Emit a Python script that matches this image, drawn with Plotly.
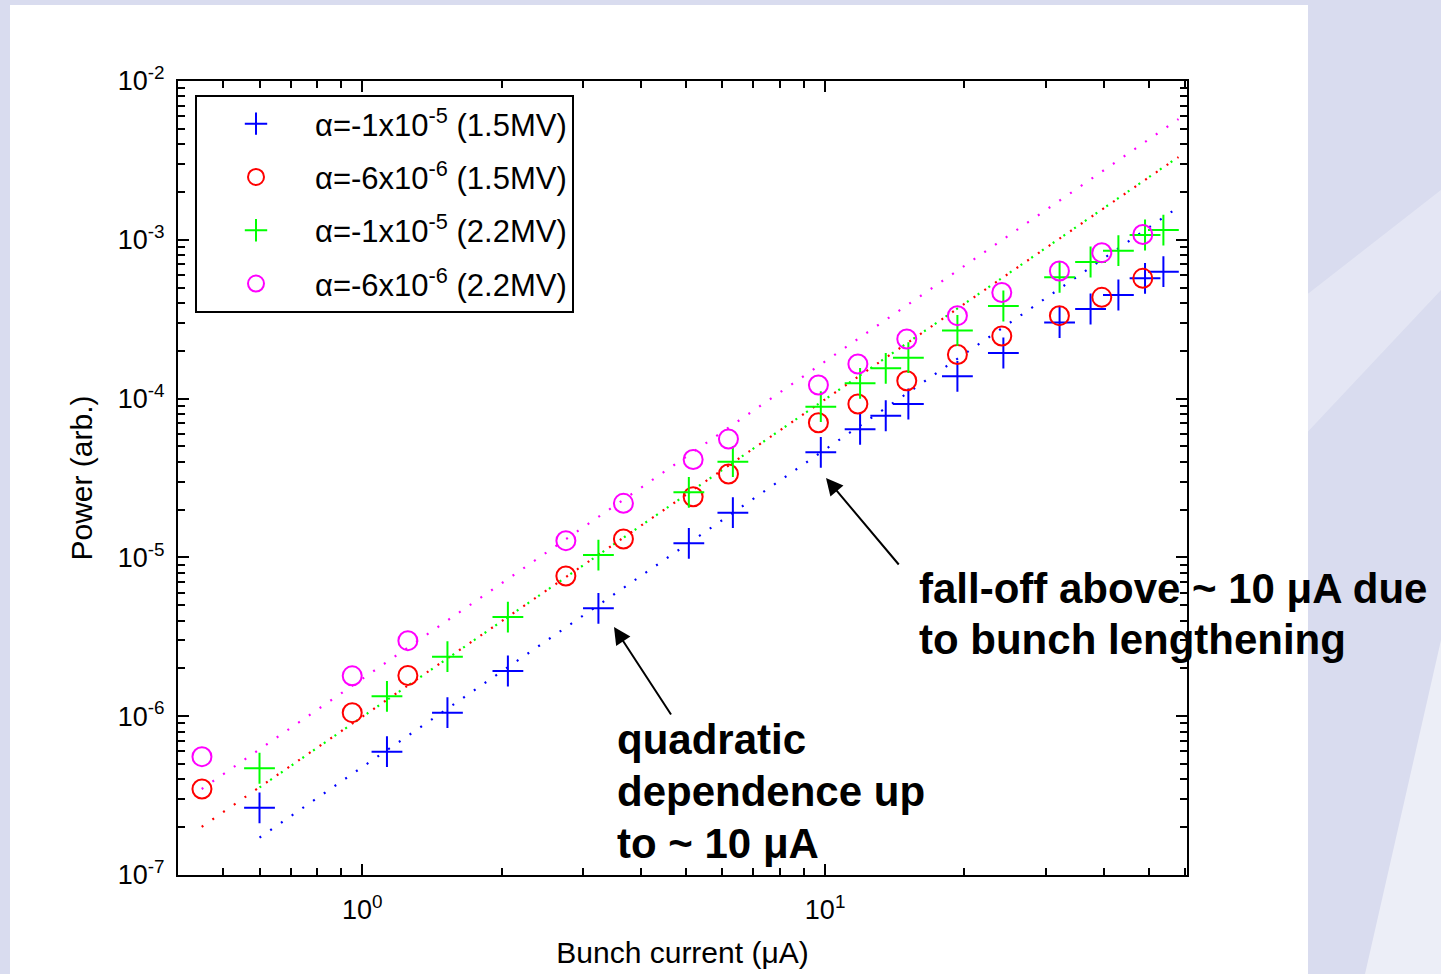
import plotly.graph_objects as go
import math

# ---------------- data ----------------
x_plus = [0.600, 1.131, 1.528, 2.064, 3.238, 5.077, 6.320, 9.788, 11.90, 13.52,
          15.13, 19.31, 24.27, 32.10, 37.45, 43.01, 49.1, 53.8]
y_blue = [2.65e-7, 5.98e-7, 1.052e-6, 1.926e-6, 4.78e-6, 1.227e-5, 1.912e-5, 4.59e-5,
          6.41e-5, 7.80e-5, 9.25e-5, 1.381e-4, 1.937e-4, 3.014e-4, 3.666e-4, 4.492e-4,
          5.72e-4, 6.30e-4]
y_green = [4.70e-7, 1.334e-6, 2.37e-6, 4.21e-6, 1.035e-5, 2.57e-5, 4.005e-5, 8.89e-5,
           1.248e-4, 1.551e-4, 1.81e-4, 2.685e-4, 3.83e-4, 5.80e-4, 7.25e-4, 8.54e-4,
           1.072e-3, 1.152e-3]

x_circ = [0.4506, 0.9515, 1.255, 2.754, 3.667, 5.187, 6.183, 9.672, 11.77, 15.01,
          19.31, 24.08, 32.07, 39.60, 48.56]
y_red = [3.48e-7, 1.052e-6, 1.804e-6, 7.64e-6, 1.305e-5, 2.41e-5, 3.35e-5, 7.05e-5,
         9.25e-5, 1.296e-4, 1.895e-4, 2.478e-4, 3.327e-4, 4.344e-4, 5.72e-4]
y_magenta = [5.56e-7, 1.796e-6, 2.99e-6, 1.274e-5, 2.19e-5, 4.135e-5, 5.565e-5, 1.218e-4,
             1.652e-4, 2.373e-4, 3.327e-4, 4.658e-4, 6.36e-4, 8.30e-4, 1.080e-3]

# quadratic-fit guide lines (end points)
fit_blue_x, fit_blue_y = [0.60, 58.0], [1.72e-7, 1.607e-3]
fit_red_x, fit_red_y = [0.45, 58.0], [2.01e-7, 3.32e-3]
fit_green_x, fit_green_y = [0.60, 58.0], [3.56e-7, 3.33e-3]
fit_mag_x, fit_mag_y = [0.45, 58.0], [3.48e-7, 5.76e-3]

names = ["α=-1x10<sup>-5</sup> (1.5MV)", "α=-6x10<sup>-6</sup> (1.5MV)",
         "α=-1x10<sup>-5</sup> (2.2MV)", "α=-6x10<sup>-6</sup> (2.2MV)"]

x_ticks = [1, 10]
x_ticktext = ["10<sup>0</sup>", "10<sup>1</sup>"]
y_ticks = [1e-7, 1e-6, 1e-5, 1e-4, 1e-3, 1e-2]
y_ticktext = ["10<sup>-7</sup>", "10<sup>-6</sup>", "10<sup>-5</sup>",
              "10<sup>-4</sup>", "10<sup>-3</sup>", "10<sup>-2</sup>"]

note1_lines = ["quadratic", "dependence up", "to ~ 10 μA"]
note2_lines = ["fall-off above ~ 10 μA due", "to bunch lengthening"]

# ---------------- layout geometry ----------------
W, H = 1441, 974
L, R, T, B = 178, 1187, 81, 875


def px(xp):
    return (xp - L) / (R - L)


def py(yp):
    return (B - yp) / (B - T)


BLUE, RED, GREEN, MAG = "#0000ff", "#ff0000", "#00ff00", "#ff00ff"
FONT = "Liberation Sans, Arial, sans-serif"

fig = go.Figure()

# guide lines
for fx, fy, c in [(fit_blue_x, fit_blue_y, BLUE), (fit_green_x, fit_green_y, GREEN),
                  (fit_red_x, fit_red_y, RED), (fit_mag_x, fit_mag_y, MAG)]:
    fig.add_trace(go.Scatter(x=fx, y=fy, mode="lines", showlegend=False, hoverinfo="skip",
                             line=dict(color=c, width=2.2, dash="2px,11px")))

series = [
    (x_plus, y_blue, BLUE, "cross-thin", 22),
    (x_circ, y_red, RED, "circle-open", 19),
    (x_plus, y_green, GREEN, "cross-thin", 22),
    (x_circ, y_magenta, MAG, "circle-open", 19),
]
for i, (sx, sy, c, sym, sz) in enumerate(series):
    fig.add_trace(go.Scatter(
        x=sx, y=sy, mode="markers", name=names[i], legendgroup=f"g{i}",
        marker=dict(symbol=sym, size=sz, color=c, line=dict(color=c, width=2)),
    ))

x_minor = [0.5, 0.6, 0.7, 0.8, 0.9, 2, 3, 4, 5, 6, 7, 8, 9, 20, 30, 40, 50, 60]
y_minor = [m * 10 ** e for e in range(-7, -2) for m in range(2, 10)]

axis_common = dict(
    showline=True, linecolor="black", linewidth=2, mirror="ticks",
    ticks="inside", ticklen=11, tickwidth=1.5, tickcolor="black",
    showgrid=False, zeroline=False,
    tickfont=dict(family=FONT, size=27, color="black"),
    title_font=dict(family=FONT, size=30, color="black"),
)

fig.update_xaxes(
    type="log", range=[math.log10(0.4), math.log10(60.5)],
    tickmode="array", tickvals=x_ticks, ticktext=x_ticktext,
    minor=dict(tickmode="array", tickvals=x_minor, ticks="inside", ticklen=7,
               tickwidth=1.5, tickcolor="black", showgrid=False),
    title=dict(text="Bunch current (μA)", standoff=18),
    ticklabelstandoff=10,
    **axis_common,
)
fig.update_yaxes(
    type="log", range=[-7, -2],
    tickmode="array", tickvals=y_ticks, ticktext=y_ticktext,
    minor=dict(tickmode="array", tickvals=y_minor, ticks="inside", ticklen=7,
               tickwidth=1.5, tickcolor="black", showgrid=False),
    title=dict(text="Power (arb.)", standoff=16),
    ticklabelstandoff=6,
    **axis_common,
)

shapes = [
    # light swooshes in the slide background (right side)
    dict(type="path", xref="paper", yref="paper", layer="below",
         path=(f"M {px(1300)} {py(300)} L {px(1441)} {py(190)} "
               f"L {px(1441)} {py(290)} L {px(1300)} {py(440)} Z"),
         fillcolor="rgba(255,255,255,0.3)", line=dict(width=0)),
    dict(type="path", xref="paper", yref="paper", layer="below",
         path=(f"M {px(1441)} {py(640)} L {px(1441)} {py(974)} "
               f"L {px(1365)} {py(974)} Z"),
         fillcolor="rgba(255,255,255,0.5)", line=dict(width=0)),
    # white slide panel
    dict(type="rect", xref="paper", yref="paper", layer="below",
         x0=px(10), x1=px(1308), y0=py(980), y1=py(5),
         fillcolor="white", line=dict(width=0)),
]

ann_font = dict(family=FONT, size=42, color="black")
annotations = []
for k, t in enumerate(note1_lines):
    annotations.append(dict(xref="paper", yref="paper", x=px(615), y=py(739 + 52 * k),
                            xanchor="left", yanchor="middle", text=f"<b>{t}</b>",
                            showarrow=False, font=ann_font))
for k, t in enumerate(note2_lines):
    annotations.append(dict(xref="paper", yref="paper", x=px(917), y=py(588 + 51 * k),
                            xanchor="left", yanchor="middle", text=f"<b>{t}</b>",
                            showarrow=False, font=ann_font))
annotations += [
    dict(xref="paper", yref="paper", x=px(614), y=py(627), text="", showarrow=True,
         ax=58, ay=89, arrowhead=2, arrowsize=1.7, arrowwidth=2, arrowcolor="black"),
    dict(xref="paper", yref="paper", x=px(826), y=py(478), text="", showarrow=True,
         ax=74, ay=88, arrowhead=2, arrowsize=1.7, arrowwidth=2, arrowcolor="black"),
]

fig.update_layout(
    width=W, height=H,
    margin=dict(l=L, r=W - R, t=T, b=H - B, autoexpand=False),
    paper_bgcolor="#d9dcef", plot_bgcolor="white",
    font=dict(family=FONT, color="black"),
    shapes=shapes, annotations=annotations,
    legend=dict(x=px(195), y=py(95), xanchor="left", yanchor="top",
                bgcolor="white", bordercolor="black", borderwidth=2,
                font=dict(family=FONT, size=31, color="black"),
                itemwidth=108, tracegroupgap=10, traceorder="grouped"),
)

fig.write_html("out.html", config={"displayModeBar": False},
               post_script="document.body.style.margin='0';document.body.style.padding='0';")
